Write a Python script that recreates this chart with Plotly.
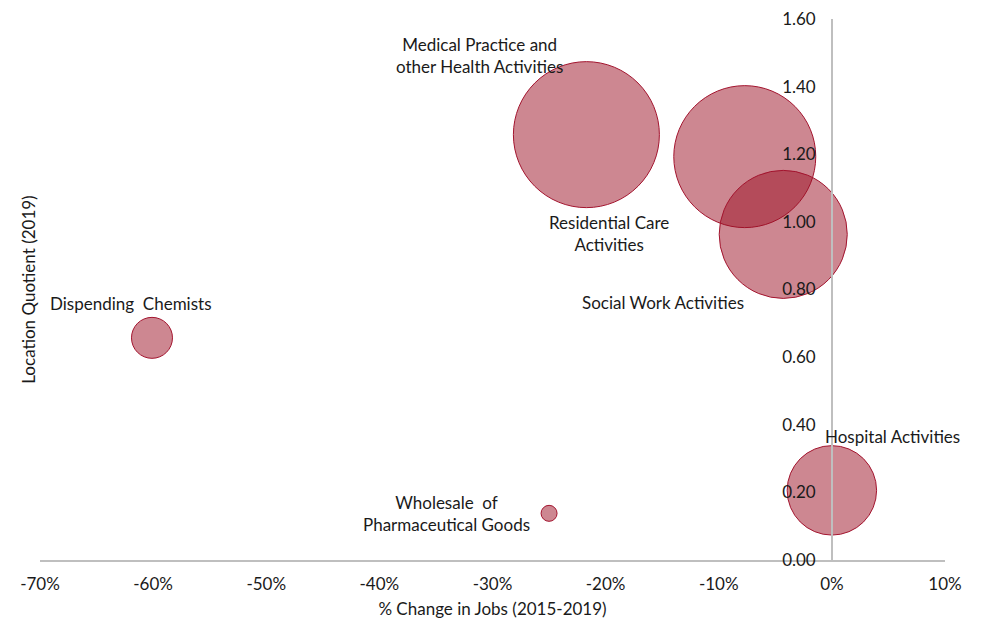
"""Bubble chart: location quotient vs % change in jobs, health sub-sectors."""

import plotly.graph_objects as go

sectors = [
    "Medical Practice and<br>other Health Activities",
    "Residential Care<br>Activities",
    "Social Work Activities",
    "Hospital Activities",
    "Dispending  Chemists",
    "Wholesale  of<br>Pharmaceutical Goods",
]
pct_change_jobs = [-0.217, -0.077, -0.043, 0.0, -0.601, -0.250]
location_quotient = [1.258, 1.193, 0.963, 0.206, 0.657, 0.138]
bubble_size = [5330, 5040, 4100, 2000, 420, 64]

x_ticks = [-0.7, -0.6, -0.5, -0.4, -0.3, -0.2, -0.1, 0.0, 0.1]
x_tick_text = ["-70%", "-60%", "-50%", "-40%", "-30%", "-20%", "-10%", "0%", "10%"]
y_ticks = [0.0, 0.2, 0.4, 0.6, 0.8, 1.0, 1.2, 1.4, 1.6]
y_tick_text = ["0.00", "0.20", "0.40", "0.60", "0.80", "1.00", "1.20", "1.40", "1.60"]

# label offsets from bubble centre, in pixels (x right, y up)
label_shift = [(-107, 79), (-136, -77), (-120, -68), (61, 54), (-21, 34), (-103, 0)]

FONT = "Lato"
TXT = "#1a1a1a"
FILL = "rgba(155, 15, 35, 0.5)"
EDGE = "#A3142E"
AXIS = "#BFBFBF"

max_diam = 146
fig = go.Figure(
    go.Scatter(
        x=pct_change_jobs,
        y=location_quotient,
        mode="markers",
        marker=dict(
            size=bubble_size,
            sizemode="area",
            sizeref=2.0 * max(bubble_size) / max_diam**2,
            color=FILL,
            opacity=1,
            line=dict(color=EDGE, width=1),
        ),
        hovertext=[s.replace("<br>", " ") for s in sectors],
        hoverinfo="text",
        showlegend=False,
    )
)

for name, x, y, (dx, dy) in zip(sectors, pct_change_jobs, location_quotient, label_shift):
    fig.add_annotation(
        x=x,
        y=y,
        text=name,
        showarrow=False,
        xshift=dx,
        yshift=dy,
        font=dict(family=FONT, size=17, color=TXT),
    )

fig.add_annotation(
    text="Location Quotient (2019)",
    xref="paper",
    yref="paper",
    x=-0.013,
    y=0.5,
    xanchor="center",
    yanchor="middle",
    textangle=-90,
    showarrow=False,
    font=dict(family=FONT, size=17, color=TXT),
)

fig.update_xaxes(
    range=[-0.7, 0.1],
    tickvals=x_ticks,
    ticktext=x_tick_text,
    showgrid=False,
    zeroline=False,
    showline=True,
    linecolor=AXIS,
    linewidth=1.5,
    ticks="outside",
    ticklen=8,
    tickcolor="rgba(0,0,0,0)",
    automargin=False,
    ticklabeloverflow="allow",
    tickfont=dict(family=FONT, size=17, color=TXT),
    title=dict(
        text="% Change in Jobs (2015-2019)",
        font=dict(family=FONT, size=17, color=TXT),
        standoff=10,
    ),
)
fig.update_yaxes(
    range=[0, 1.6],
    tickvals=y_ticks,
    ticktext=y_tick_text,
    anchor="free",
    position=0.875,
    side="left",
    showgrid=False,
    zeroline=False,
    showline=True,
    linecolor=AXIS,
    linewidth=1.5,
    ticks="outside",
    ticklen=12,
    tickcolor="rgba(0,0,0,0)",
    automargin=False,
    ticklabeloverflow="allow",
    tickfont=dict(family=FONT, size=17, color=TXT),
)

# page body has an 8px default margin, so the figure is sized to fit inside it
fig.update_layout(
    width=976,
    height=614,
    plot_bgcolor="white",
    paper_bgcolor="white",
    margin=dict(l=32, r=39, t=11, b=62),
    font=dict(family=FONT),
)

fig.write_html("out.html")
